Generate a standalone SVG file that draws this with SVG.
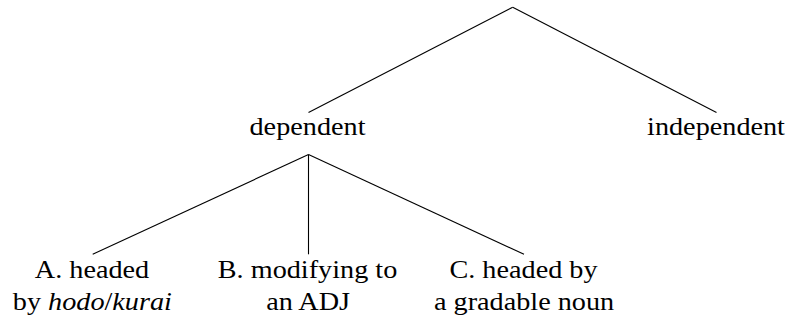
<svg xmlns="http://www.w3.org/2000/svg" width="788" height="320" viewBox="0 0 788 320">
<style>
.t{font-family:"Liberation Serif","Times New Roman",serif;font-size:25.2px;fill:#000;text-anchor:middle}
.e{stroke:#000;stroke-width:1.1;fill:none}
</style>
<rect width="788" height="320" fill="#fff"/>
<g id="connectors">
<line class="e" x1="512.7" y1="7.3" x2="308.5" y2="112.5"/>
<line class="e" x1="512.7" y1="7.3" x2="716.5" y2="112.5"/>
<line class="e" x1="308.5" y1="154.5" x2="92.7" y2="254.3"/>
<line class="e" x1="308.5" y1="154.5" x2="308.5" y2="254.3"/>
<line class="e" x1="308.5" y1="154.5" x2="524" y2="254.3"/>
</g>
<g class="t">
<g id="dependent" transform="translate(307.5 0) scale(1.12 1)"><text x="0" y="135">dependent</text></g>
<g id="independent" transform="translate(716 0) scale(1.12 1)"><text x="0" y="135">independent</text></g>
<g id="nodeA" transform="translate(92 0) scale(1.12 1)"><text x="0" y="278.3">A. headed</text><text x="0.3" y="310">by <tspan font-style="italic">hodo</tspan>/<tspan font-style="italic">kurai</tspan></text></g>
<g id="nodeB" transform="translate(307.5 0) scale(1.12 1)"><text x="0" y="278.3">B. modifying to</text><text x="0.5" y="310">an ADJ</text></g>
<g id="nodeC" transform="translate(523.5 0) scale(1.12 1)"><text x="0" y="278.3">C. headed by</text><text x="0.5" y="310">a gradable noun</text></g>
</g>
</svg>
